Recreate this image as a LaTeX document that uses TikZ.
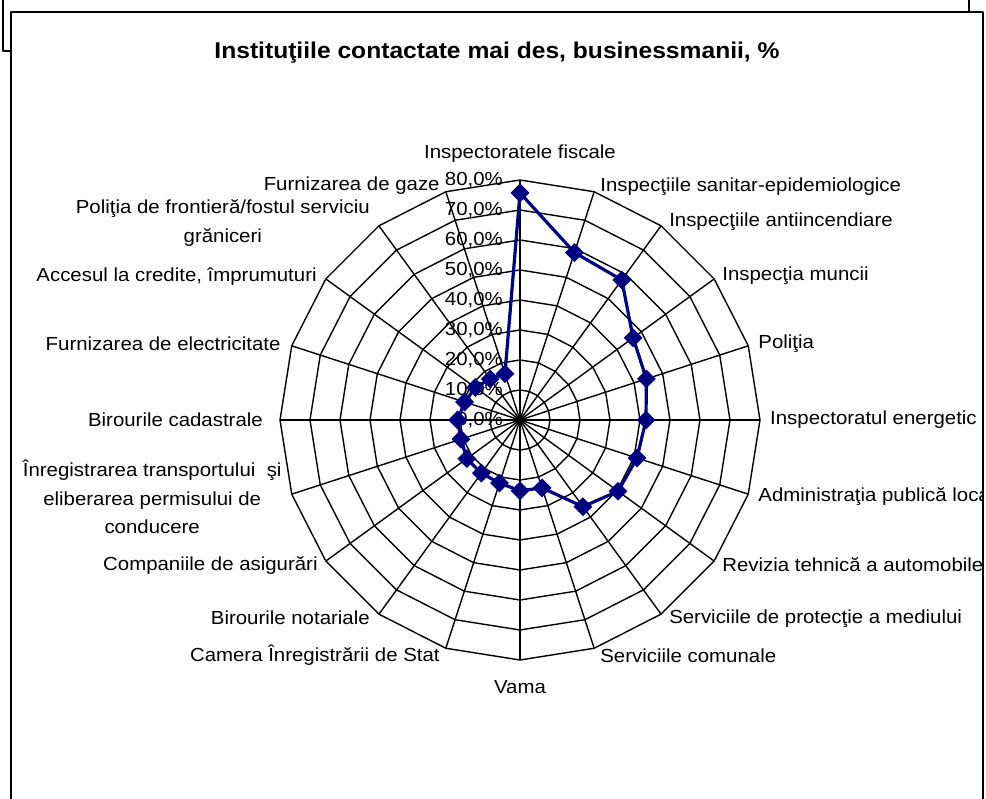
\documentclass[tikz,border=0pt]{standalone}
\usepackage{fontspec}
\setmainfont{Liberation Sans}[FakeStretch=1.08]
\usetikzlibrary{positioning,shapes.geometric}
\definecolor{navy}{RGB}{0,0,128}
\tikzset{
  gridline/.style={line width=1.4pt},
  frameline/.style={line width=2pt},
  dataline/.style={navy, line width=3.2pt, line join=round},
  marker/.style={diamond, fill=navy, inner sep=0pt, minimum size=19pt},
  axlabel/.style={inner sep=1pt, align=center},
}
\begin{document}
\begin{tikzpicture}[x=1pt, y=1pt, line join=round, font=\fontsize{18.9}{28.5}\selectfont]
    \def\ring{30}\def\nring{8}
    \useasboundingbox (-520,420) rectangle (466,-379);
    % frames
    \draw[frameline] (-517,420) -- (-517,369) -- (-509,369);
    \draw[frameline] (449,420) -- (449,408);
    \draw[frameline] (-509,-400) -- (-509,408) -- (463,408) -- (463,-400);
    \node[font=\bfseries\fontsize{22.8}{26}\selectfont] (title) at (-23,367) {Instituţiile contactate mai des, businessmanii, \%};
    % web
    \foreach \k in {1,...,\nring}
        \draw[gridline] (90:\k*\ring) \foreach \i in {1,...,19} {-- (90-18*\i:\k*\ring)} -- cycle;
    \foreach \i in {0,...,19}
        \draw[gridline] (0,0) -- (90-18*\i:\nring*\ring) coordinate (v\i);
    \foreach \k/\t in {0/0,1/10,2/20,3/30,4/40,5/50,6/60,7/70,8/80}
        \node[anchor=east, inner sep=1pt] (tick\k) at (-16,\k*\ring) {\t,0\%};
    % data
    \foreach \v [count=\i from 0] in {75.7,58.7,57.7,46.6,44.3,42,41,40.4,35.7,23.8,23.6,22.1,21.9,21.9,20.7,20.8,19.4,18.4,16.9,16.2}
        \coordinate (p\i) at (90-18*\i:\v*3);
    \draw[dataline] (p0) \foreach \i in {1,...,19} {-- (p\i)} -- cycle;
    \foreach \i in {0,...,19} \node[marker] (m\i) at (p\i) {};
    % labels
    \begin{scope}
    \clip (-509,408) rectangle (462,-400);
    \node[axlabel, anchor=south] (fiscale) at ([yshift=16]v0) {Inspectoratele fiscale};
    \node[axlabel, anchor=west] (sanitar) at ([shift={(5,5)}]v1) {Inspecţiile sanitar-epidemiologice};
    \node[axlabel, anchor=west] (incendiu) at ([shift={(7,4)}]v2) {Inspecţiile antiincendiare};
    \node[axlabel, anchor=west] (muncii) at ([shift={(7,3)}]v3) {Inspecţia muncii};
    \node[axlabel, anchor=west] (politia) at ([shift={(9,2)}]v4) {Poliţia};
    \node[axlabel, anchor=west] (energetic) at ([shift={(9,0)}]v5) {Inspectoratul energetic};
    \node[axlabel, anchor=west] (admin) at ([shift={(9,-2)}]v6) {Administraţia publică locală};
    \node[axlabel, anchor=west] (revizia) at ([shift={(7,-4)}]v7) {Revizia tehnică a automobilelor};
    \node[axlabel, anchor=west] (mediu) at ([shift={(7,-4)}]v8) {Serviciile de protecţie a mediului};
    \node[axlabel, anchor=west] (comunale) at ([shift={(5,-7)}]v9) {Serviciile comunale};
    \node[axlabel, anchor=north] (vama) at ([yshift=-19]v10) {Vama};
    \node[axlabel, anchor=east] (camera) at ([shift={(-5,-7)}]v11) {Camera Înregistrării de Stat};
    \node[axlabel, anchor=east] (notar) at ([shift={(-8,-4)}]v12) {Birourile notariale};
    \node[axlabel, anchor=east] (asigurari) at ([shift={(-7,-4)}]v13) {Companiile de asigurări};
    \node[axlabel, anchor=east] (transport) at ([shift={(-9,-3)}]v14) {Înregistrarea transportului\ \ şi\\eliberarea permisului de\\conducere};
    \node[axlabel, anchor=east] (cadastru) at ([shift={(-16,0)}]v15) {Birourile cadastrale};
    \node[axlabel, anchor=east] (electric) at ([shift={(-10,2)}]v16) {Furnizarea de electricitate};
    \node[axlabel, anchor=east] (credite) at ([shift={(-8,2)}]v17) {Accesul la credite, împrumuturi};
    \node[axlabel, anchor=east] (frontiera) at ([shift={(-8,3)}]v18) {Poliţia de frontieră/fostul serviciu\\grăniceri};
    \node[axlabel, anchor=east] (gaze) at ([shift={(-5,6)}]v19) {Furnizarea de gaze};
    \end{scope}
\end{tikzpicture}
\end{document}
